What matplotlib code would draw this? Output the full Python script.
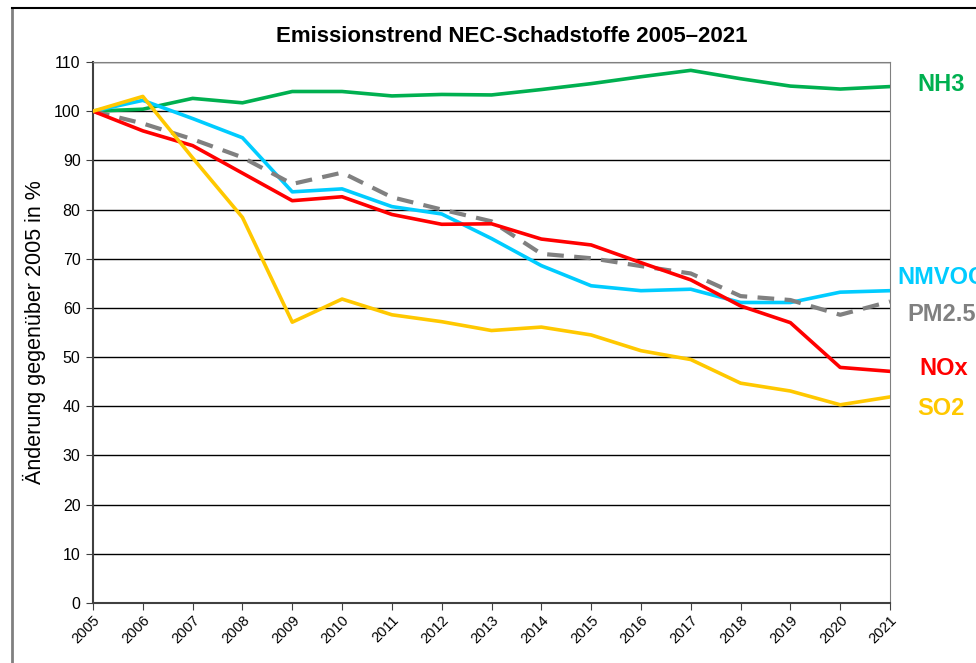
import numpy as np
from matplotlib import pyplot as plt
from matplotlib.lines import Line2D

plt.rcParams['font.family'] = ['Liberation Sans', 'DejaVu Sans']

years = list(range(2005, 2022))
nh3 = [100, 100.4, 102.6, 101.7, 104.0, 104.0, 103.1, 103.4, 103.3, 104.4, 105.6, 107.0, 108.3, 106.6, 105.1, 104.5, 105.0]
nmvoc = [100, 102.2, 98.5, 94.6, 83.6, 84.2, 80.6, 79.1, 74.1, 68.6, 64.5, 63.5, 63.8, 61.1, 61.1, 63.2, 63.5]
pm25 = [100, 97.5, 94.3, 90.6, 85.2, 87.5, 82.5, 80.0, 77.6, 71.0, 70.1, 68.5, 67.0, 62.4, 61.6, 58.6, 61.3]
nox = [100, 96.0, 93.0, 87.4, 81.8, 82.6, 79.0, 77.0, 77.1, 74.0, 72.8, 69.2, 65.7, 60.4, 57.0, 47.9, 47.1]
so2 = [100, 103.0, 90.5, 78.4, 57.1, 61.8, 58.6, 57.2, 55.4, 56.1, 54.5, 51.3, 49.5, 44.7, 43.1, 40.3, 41.9]

series = [
    ('NH3', nh3, '#00B050', '-'),
    ('NMVOC', nmvoc, '#00CCFF', '-'),
    ('PM2.5', pm25, '#808080', '--'),
    ('NOx', nox, '#FF0000', '-'),
    ('SO2', so2, '#FFC800', '-'),
]
# label positions (x, y) right of the plot
label_pos = {'NH3': (2021.55, 105.5), 'NMVOC': (2021.15, 66.1), 'PM2.5': (2021.35, 58.6),
             'NOx': (2021.58, 47.6), 'SO2': (2021.55, 39.6)}

fig = plt.figure(figsize=(9.76, 6.63), dpi=100)
ax = fig.add_axes([0.0953, 0.0905, 0.8166, 0.816])

# outer chart frame (cut off right and bottom)
fx = 12 / 976
fy = 1 - 8 / 663
fig.add_artist(Line2D([fx, fx], [0, fy], transform=fig.transFigure, color='#808080', linewidth=2))
fig.add_artist(Line2D([fx, 1], [fy, fy], transform=fig.transFigure, color='black', linewidth=1.5))

for name, vals, col, ls in series:
    if ls == '--':
        ax.plot(years, vals, color=col, linewidth=3, linestyle=(0, (4, 2.5)), zorder=3)
    else:
        ax.plot(years, vals, color=col, linewidth=2.6, zorder=3)
    lx, ly = label_pos[name]
    ax.text(lx, ly, name, color=col, fontsize=17, fontweight='bold', ha='left', va='center',
            clip_on=False)

ax.set_xlim(2005, 2021)
ax.set_ylim(0, 110)
ax.set_yticks(range(0, 111, 10))
ax.set_xticks(years)
ax.set_xticklabels([str(y) for y in years], rotation=45, fontsize=10.5)
ax.tick_params(axis='y', labelsize=11.5, length=5, color='#404040', pad=4)
ax.tick_params(axis='x', length=5, color='#404040', pad=2)
for lab in ax.get_xticklabels():
    lab.set_horizontalalignment('right')
    lab.set_rotation_mode('anchor')

ax.grid(axis='y', color='black', linewidth=1)
ax.set_axisbelow(True)
ax.spines['left'].set_color('#404040')
ax.spines['left'].set_linewidth(1.5)
ax.spines['bottom'].set_color('#404040')
ax.spines['bottom'].set_linewidth(1.5)
ax.spines['top'].set_color('#808080')
ax.spines['right'].set_color('#808080')

ax.set_ylabel('Änderung gegenüber 2005 in %', fontsize=15.5, labelpad=6)
fig.text(512 / 976, 1 - 36 / 663, 'Emissionstrend NEC-Schadstoffe 2005\u20132021',
         fontsize=16, fontweight='bold', ha='center', va='center')

fig.savefig('out.png', dpi=100)
